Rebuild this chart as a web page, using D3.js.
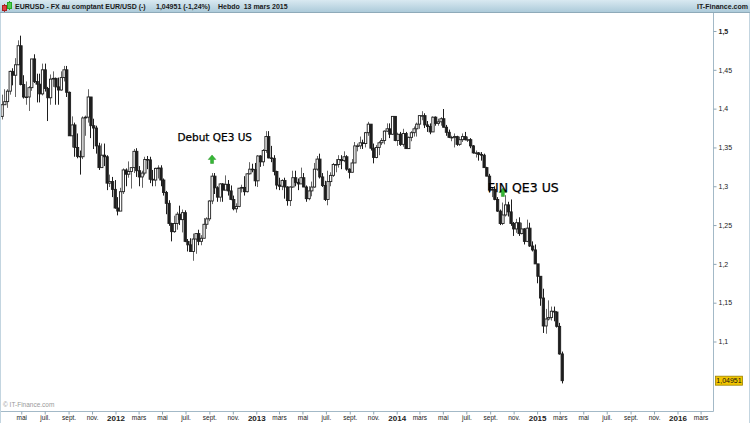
<!DOCTYPE html>
<html><head><meta charset="utf-8">
<script src="https://cdn.jsdelivr.net/npm/d3@7"></script>
<style>html,body{margin:0;padding:0;background:#fff;} svg{display:block;}</style>
</head><body><svg id="c" width="750" height="423"></svg>
<script>
// Weekly EUR/USD candles, first week starting 2011-03-14
const firstWeek = "2011-03-14";
const opens = [
1.3900,1.4050,1.4090,1.4225,1.4480,1.4430,1.4565,1.4810,1.4310,1.4150,1.4150,1.4270,1.4640,1.4350,1.4315,1.4190,1.4500,1.4260,1.4140,1.4380,
1.4390,1.4280,1.4240,1.4400,1.4500,1.4210,1.3650,1.3790,1.3500,1.3385,1.3380,1.3880,1.3890,1.4150,1.3780,1.3750,1.3520,1.3240,1.3400,1.3380,
1.3040,1.3060,1.2960,1.2720,1.2680,1.2930,1.3210,1.3155,1.3190,1.3240,1.3450,1.3200,1.3120,1.3170,1.3345,1.3340,1.3090,1.3080,1.3230,1.3235,
1.3080,1.2920,1.2780,1.2520,1.2415,1.2520,1.2640,1.2570,1.2660,1.2290,1.2245,1.2160,1.2320,1.2390,1.2290,1.2330,1.2510,1.2580,1.2810,1.3130,
1.2980,1.2860,1.3030,1.2950,1.3025,1.2940,1.2830,1.2710,1.2740,1.2975,1.2985,1.2930,1.3160,1.3220,1.3215,1.3070,1.3390,1.3315,1.3460,1.3640,
1.3365,1.3360,1.3190,1.3015,1.3000,1.3075,1.2990,1.2815,1.2990,1.3110,1.3050,1.3030,1.3110,1.2990,1.2840,1.2940,1.2990,1.3220,1.3350,1.3120,
1.3010,1.2830,1.3060,1.3140,1.3280,1.3280,1.3345,1.3330,1.3380,1.3220,1.3180,1.3300,1.3520,1.3520,1.3560,1.3550,1.3690,1.3800,1.3490,1.3370,
1.3500,1.3560,1.3590,1.3710,1.3740,1.3670,1.3900,1.3590,1.3670,1.3540,1.3680,1.3485,1.3630,1.3690,1.3740,1.3800,1.3910,1.3910,1.3790,1.3770,
1.3700,1.3890,1.3810,1.3830,1.3870,1.3760,1.3695,1.3630,1.3630,1.3640,1.3540,1.3600,1.3640,1.3600,1.3600,1.3520,1.3430,1.3430,1.3410,1.3400,
1.3240,1.3130,1.2950,1.2960,1.2830,1.2680,1.2520,1.2630,1.2760,1.2670,1.2520,1.2450,1.2530,1.2390,1.2450,1.2290,1.2460,1.2230,1.2180,1.2000,
1.1840,1.1560,1.1200,1.1290,1.1310,1.1390,1.1380,1.1195,1.0840];
const highs = [
1.4180,1.4250,1.4250,1.4490,1.4520,1.4650,1.4880,1.4940,1.4430,1.4350,1.4290,1.4640,1.4700,1.4450,1.4450,1.4580,1.4580,1.4280,1.4440,1.4480,
1.4400,1.4400,1.4480,1.4550,1.4550,1.4220,1.3900,1.3820,1.3680,1.3460,1.3900,1.3910,1.4250,1.4150,1.3870,1.3780,1.3560,1.3550,1.3550,1.3400,
1.3150,1.3120,1.3080,1.2860,1.2980,1.3230,1.3230,1.3320,1.3240,1.3480,1.3490,1.3260,1.3200,1.3380,1.3390,1.3380,1.3210,1.3240,1.3270,1.3270,
1.3100,1.2940,1.2820,1.2530,1.2620,1.2670,1.2750,1.2700,1.2690,1.2320,1.2330,1.2390,1.2390,1.2440,1.2370,1.2590,1.2600,1.2820,1.3170,1.3170,
1.3000,1.3040,1.3040,1.3140,1.3080,1.3010,1.2880,1.2780,1.2980,1.3020,1.3130,1.3170,1.3310,1.3290,1.3300,1.3400,1.3400,1.3480,1.3710,1.3710,
1.3520,1.3400,1.3200,1.3110,1.3090,1.3110,1.3000,1.3000,1.3200,1.3200,1.3100,1.3240,1.3170,1.3010,1.3000,1.3060,1.3300,1.3390,1.3420,1.3170,
1.3070,1.3200,1.3180,1.3300,1.3350,1.3400,1.3400,1.3450,1.3400,1.3230,1.3350,1.3570,1.3550,1.3640,1.3600,1.3700,1.3830,1.3800,1.3550,1.3530,
1.3580,1.3620,1.3720,1.3810,1.3810,1.3900,1.3900,1.3690,1.3700,1.3740,1.3700,1.3640,1.3710,1.3770,1.3820,1.3910,1.3967,1.3940,1.3840,1.3810,
1.3900,1.3900,1.3870,1.3890,1.3995,1.3790,1.3730,1.3650,1.3680,1.3650,1.3640,1.3680,1.3700,1.3640,1.3620,1.3530,1.3460,1.3440,1.3440,1.3420,
1.3250,1.3160,1.2990,1.3000,1.2860,1.2700,1.2790,1.2885,1.2800,1.2830,1.2540,1.2580,1.2600,1.2530,1.2460,1.2570,1.2530,1.2290,1.2250,1.2000,
1.1840,1.1680,1.1420,1.1530,1.1450,1.1450,1.1390,1.1240,1.0870];
const lows = [
1.3860,1.4050,1.4010,1.4180,1.4300,1.4150,1.4560,1.4300,1.4130,1.4050,1.3970,1.4230,1.4330,1.4080,1.4080,1.4170,1.4220,1.3840,1.4050,1.4280,
1.4050,1.4050,1.4230,1.4350,1.4150,1.3650,1.3500,1.3380,1.3360,1.3150,1.3350,1.3650,1.3820,1.3620,1.3480,1.3420,1.3210,1.3240,1.3260,1.2950,
1.2990,1.2860,1.2710,1.2625,1.2680,1.2900,1.3000,1.3110,1.2970,1.3170,1.3120,1.3000,1.2980,1.3140,1.3220,1.3040,1.3000,1.3000,1.3100,1.3000,
1.2880,1.2640,1.2490,1.2290,1.2400,1.2440,1.2500,1.2405,1.2280,1.2160,1.2160,1.2040,1.2130,1.2240,1.2240,1.2330,1.2450,1.2550,1.2770,1.2900,
1.2800,1.2800,1.2800,1.2950,1.2880,1.2820,1.2690,1.2660,1.2730,1.2920,1.2880,1.2920,1.3150,1.3180,1.3000,1.2990,1.3250,1.3260,1.3430,1.3360,
1.3310,1.3140,1.2960,1.2950,1.2950,1.2840,1.2750,1.2745,1.2980,1.3000,1.2950,1.3030,1.2990,1.2800,1.2820,1.2870,1.2980,1.3200,1.3100,1.2990,
1.2810,1.2755,1.3000,1.3120,1.3180,1.3240,1.3220,1.3310,1.3200,1.3100,1.3180,1.3300,1.3450,1.3480,1.3480,1.3500,1.3650,1.3460,1.3295,1.3360,
1.3400,1.3530,1.3540,1.3700,1.3620,1.3660,1.3580,1.3520,1.3520,1.3510,1.3480,1.3480,1.3580,1.3640,1.3640,1.3740,1.3850,1.3750,1.3700,1.3670,
1.3700,1.3780,1.3780,1.3780,1.3760,1.3650,1.3620,1.3580,1.3500,1.3520,1.3520,1.3570,1.3590,1.3570,1.3490,1.3420,1.3370,1.3330,1.3330,1.3240,
1.3130,1.2920,1.2860,1.2820,1.2670,1.2500,1.2500,1.2610,1.2610,1.2490,1.2360,1.2400,1.2360,1.2380,1.2250,1.2280,1.2220,1.2160,1.2000,1.1750,
1.1460,1.1110,1.1100,1.1270,1.1270,1.1260,1.1180,1.0830,1.0460];
const closes = [
1.4050,1.4090,1.4225,1.4480,1.4430,1.4565,1.4810,1.4310,1.4150,1.4150,1.4270,1.4640,1.4350,1.4315,1.4190,1.4500,1.4260,1.4140,1.4380,1.4390,
1.4280,1.4240,1.4400,1.4500,1.4210,1.3650,1.3790,1.3500,1.3385,1.3380,1.3880,1.3890,1.4150,1.3780,1.3750,1.3520,1.3240,1.3400,1.3380,1.3040,
1.3060,1.2960,1.2720,1.2680,1.2930,1.3210,1.3155,1.3190,1.3240,1.3450,1.3200,1.3120,1.3170,1.3345,1.3340,1.3090,1.3080,1.3230,1.3235,1.3080,
1.2920,1.2780,1.2520,1.2415,1.2520,1.2640,1.2570,1.2660,1.2290,1.2245,1.2160,1.2320,1.2390,1.2290,1.2330,1.2510,1.2580,1.2810,1.3130,1.2980,
1.2860,1.3030,1.2950,1.3025,1.2940,1.2830,1.2710,1.2740,1.2975,1.2985,1.2930,1.3160,1.3220,1.3215,1.3070,1.3390,1.3315,1.3460,1.3640,1.3365,
1.3360,1.3190,1.3015,1.3000,1.3075,1.2990,1.2815,1.2990,1.3110,1.3050,1.3030,1.3110,1.2990,1.2840,1.2940,1.2990,1.3220,1.3350,1.3120,1.3010,
1.2830,1.3060,1.3140,1.3280,1.3280,1.3345,1.3330,1.3380,1.3220,1.3180,1.3300,1.3520,1.3520,1.3560,1.3550,1.3690,1.3800,1.3490,1.3370,1.3500,
1.3560,1.3590,1.3710,1.3740,1.3670,1.3900,1.3590,1.3670,1.3540,1.3680,1.3485,1.3630,1.3690,1.3740,1.3800,1.3910,1.3910,1.3790,1.3770,1.3700,
1.3890,1.3810,1.3830,1.3870,1.3760,1.3695,1.3630,1.3630,1.3640,1.3540,1.3600,1.3640,1.3600,1.3600,1.3520,1.3430,1.3430,1.3410,1.3400,1.3240,
1.3130,1.2950,1.2960,1.2830,1.2680,1.2520,1.2630,1.2760,1.2670,1.2520,1.2450,1.2530,1.2390,1.2450,1.2290,1.2460,1.2230,1.2180,1.2000,1.1840,
1.1560,1.1200,1.1290,1.1310,1.1390,1.1380,1.1195,1.0840,1.04951];

const yTicks = [1.1, 1.15, 1.2, 1.25, 1.3, 1.35, 1.4, 1.45, 1.5];
const monthLabels = {2: "mars", 4: "mai", 6: "juil.", 8: "sept.", 10: "nov."};
const lastPrice = "1,04951";
const annotations = [
  {text: "Debut QE3 US", arrowDate: "2012-09-08", arrowPrice: 1.3345, labelDate: "2012-09-15", labelPrice: 1.3583, size: 10.5},
  {text: "FIN QE3 US", arrowDate: "2014-10-04", arrowPrice: 1.292, labelDate: "2014-11-26", labelPrice: 1.2932, size: 12.5}
];

const W = 750, H = 423;
const plotRight = 713.5, plotTop = 13, plotBottom = 411.5;

const svg = d3.select("#c");
const defs = svg.append("defs");

// scales
const x = d3.scaleUtc()
  .domain([new Date(Date.UTC(2012,0,1)), new Date(Date.UTC(2016,0,1))])
  .range([115.5, 677.5]);
const y = d3.scaleLinear().domain([1.1, 1.5]).range([341.5, 31]);

// header
const grad = defs.append("linearGradient").attr("id","hg").attr("x1",0).attr("y1",0).attr("x2",0).attr("y2",1);
grad.append("stop").attr("offset","0%").attr("stop-color","#d9e9f1");
grad.append("stop").attr("offset","100%").attr("stop-color","#a9c8d8");
svg.append("rect").attr("x",0).attr("y",0).attr("width",W).attr("height",13).attr("fill","url(#hg)");
svg.append("line").attr("x1",0).attr("x2",W).attr("y1",12.5).attr("y2",12.5).attr("stroke","#8eaab9");

// header icon
const icon = svg.append("g");
icon.append("line").attr("x1",4.5).attr("x2",4.5).attr("y1",4).attr("y2",12).attr("stroke","#a33");
icon.append("rect").attr("x",2.5).attr("y",5.5).attr("width",4).attr("height",5).attr("fill","#e04040").attr("stroke","#a22");
icon.append("line").attr("x1",9.5).attr("x2",9.5).attr("y1",1).attr("y2",10).attr("stroke","#3a3");
icon.append("rect").attr("x",7.5).attr("y",2.5).attr("width",4).attr("height",6).attr("fill","#5c5").attr("stroke","#2a2");

const hdr = svg.append("g").attr("font-family","'Liberation Sans', Arial, sans-serif")
  .attr("font-weight","bold").attr("font-size",7).attr("fill","#1a1a1a");
hdr.append("text").attr("x",15).attr("y",9.3).text("EURUSD - FX au comptant EUR/USD (-)");
hdr.append("text").attr("x",156).attr("y",9.3).text("1,04951 (-1,24%)");
hdr.append("text").attr("x",218).attr("y",9.3).text("Hebdo  13 mars 2015").attr("xml:space","preserve");
hdr.append("text").attr("x",748).attr("y",9.3).attr("text-anchor","end").text("IT-Finance.com");

// frame lines
svg.append("line").attr("x1",plotRight).attr("x2",plotRight).attr("y1",plotTop).attr("y2",plotBottom).attr("stroke","#a3b9c7");
svg.append("line").attr("x1",0).attr("x2",plotRight).attr("y1",plotBottom).attr("y2",plotBottom).attr("stroke","#a3b9c7");
svg.append("line").attr("x1",0.5).attr("x2",0.5).attr("y1",plotTop).attr("y2",H).attr("stroke","#c3d5e0");
svg.append("line").attr("x1",W-0.5).attr("x2",W-0.5).attr("y1",plotTop).attr("y2",H).attr("stroke","#c3d5e0");

// clip
defs.append("clipPath").attr("id","pc").append("rect")
  .attr("x",1).attr("y",plotTop+1).attr("width",plotRight-1.5).attr("height",plotBottom-plotTop-1.5);

// data
const start = new Date(firstWeek + "T00:00:00Z");
const data = closes.map((c,i) => ({
  date: d3.utcDay.offset(start, 7*i - 3),
  o: opens[i], h: highs[i], l: lows[i], c: c
}));

const bodyW = 2.3;
const g = svg.append("g").attr("clip-path","url(#pc)");
const candles = g.selectAll("g.c").data(data).join("g").attr("class","c");
candles.append("line")
  .attr("x1", d => Math.round(x(d.date)) + 0.5).attr("x2", d => Math.round(x(d.date)) + 0.5)
  .attr("y1", d => y(d.h)).attr("y2", d => y(d.l))
  .attr("stroke", d => d.c >= d.o ? "#666" : "#1e1e1e").attr("stroke-width", 1);
candles.append("rect")
  .attr("x", d => x(d.date) - bodyW/2 + 0.5)
  .attr("width", bodyW)
  .attr("y", d => y(Math.max(d.o, d.c)))
  .attr("height", d => Math.max(0.6, Math.abs(y(d.o) - y(d.c))))
  .attr("fill", d => d.c >= d.o ? "#fff" : "#1e1e1e")
  .attr("stroke", "#1e1e1e").attr("stroke-width", 0.9);

// y axis
const yAxis = svg.append("g").attr("transform", `translate(${plotRight},0)`)
  .call(d3.axisRight(y).tickValues(yTicks).tickSize(3).tickPadding(2)
    .tickFormat(d => String(+d.toFixed(2)).replace(".", ",")));
yAxis.select(".domain").remove();
yAxis.selectAll(".tick line").attr("stroke","#8fa6b5");
yAxis.selectAll(".tick text").attr("font-family","'Liberation Sans', Arial, sans-serif")
  .attr("font-size",7).attr("fill","#222")
  .attr("font-weight", d => d === 1.5 ? "bold" : "normal");

// last price tag
const tag = svg.append("g");
const ty = y(closes[closes.length-1]);
tag.append("rect").attr("x",715.5).attr("y",ty-4.5).attr("width",27).attr("height",9)
  .attr("fill","#f2c500").attr("stroke","#9c8200").attr("stroke-width",0.8);
tag.append("text").attr("x",729).attr("y",ty+2.5).attr("text-anchor","middle")
  .attr("font-family","'Liberation Sans', Arial, sans-serif").attr("font-size",7).attr("fill","#111")
  .text(lastPrice);

// x axis
const xTicks = d3.utcMonth.every(2).range(new Date(Date.UTC(2011,4,1)), new Date(Date.UTC(2016,3,1)));
const xAxis = svg.append("g").attr("transform", `translate(0,${plotBottom})`)
  .call(d3.axisBottom(x).tickValues(xTicks).tickSize(3).tickPadding(1)
    .tickFormat(d => d.getUTCMonth() === 0 ? String(d.getUTCFullYear()) : monthLabels[d.getUTCMonth()]));
xAxis.select(".domain").remove();
xAxis.selectAll(".tick line").attr("stroke","#8fa6b5");
xAxis.selectAll(".tick text").attr("font-family","'Liberation Sans', Arial, sans-serif")
  .attr("fill","#222")
  .attr("font-size", d => d.getUTCMonth() === 0 ? 8 : 6.5)
  .attr("font-weight", d => d.getUTCMonth() === 0 ? "bold" : "normal");

// copyright
svg.append("text").attr("x",3).attr("y",407).attr("font-family","'Liberation Sans', Arial, sans-serif")
  .attr("font-size",6.5).attr("fill","#999").text("© IT-Finance.com");

// annotations
const ann = svg.append("g");
annotations.forEach(a => {
  const ax = x(new Date(a.arrowDate + "T00:00:00Z"));
  const ay = y(a.arrowPrice);
  const arrow = ann.append("g").attr("transform", `translate(${ax},${ay})`);
  arrow.append("path").attr("d","M0,-4.5 L3.8,0 L1.5,0 L1.5,4 L-1.5,4 L-1.5,0 L-3.8,0 Z")
    .attr("fill","#35b835").attr("stroke","#2a902a").attr("stroke-width",0.5);
  ann.append("text").attr("x", x(new Date(a.labelDate + "T00:00:00Z"))).attr("y", y(a.labelPrice))
    .attr("text-anchor","middle").attr("font-family","'DejaVu Sans', sans-serif")
    .attr("font-size",a.size).attr("fill","#000").attr("stroke","#000").attr("stroke-width",0.25)
    .text(a.text);
});
</script>
</body></html>
